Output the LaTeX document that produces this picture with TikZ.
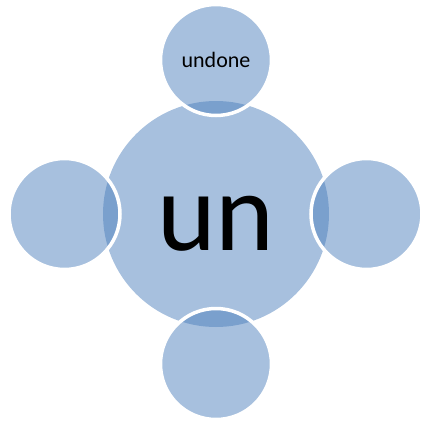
\documentclass[tikz,border=0pt]{standalone}
\usepackage{fontspec}
\setmainfont{Carlito}
\definecolor{accent}{HTML}{4F81BD}
\begin{document}
\begin{tikzpicture}[x=1pt,y=-1pt,
  hub/.style={circle,fill=accent,fill opacity=0.5,inner sep=0pt,minimum size=226pt,text opacity=1},
  sat/.style={circle,fill=accent,fill opacity=0.5,draw=white,line width=3.5pt,inner sep=0pt,minimum size=111pt,text opacity=1}]
\useasboundingbox (0,0) rectangle (421,421);
\node[hub] (c) at (216,214) {};
\node[font=\fontsize{112}{112}\selectfont] (t) at (216,224) {un};
\node[sat,font=\fontsize{22}{22}\selectfont] (n) at (216,60) {undone};
\node[sat] (w) at (64.5,214) {};
\node[sat] (e) at (366.5,214) {};
\node[sat] (s) at (216,364) {};
\end{tikzpicture}
\end{document}
